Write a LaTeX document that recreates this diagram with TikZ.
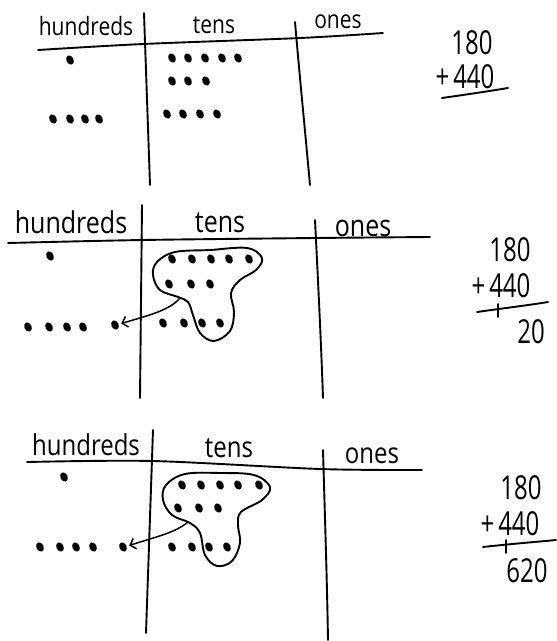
\documentclass[tikz,border=0pt]{standalone}
\usepackage{fontspec}
\setmainfont{Open Sans}
\usetikzlibrary{shapes.geometric,arrows.meta}
\tikzset{
  ink/.style={line width=1.9pt, line cap=round, line join=round},
  dotm/.style={ellipse, fill=black, draw=black, line width=0.6pt, inner sep=0pt, minimum width=6.5pt, minimum height=9pt, rotate=25},
  hdr/.style={anchor=base, inner sep=0pt, yscale=1.2},
  num/.style={inner sep=0pt, xscale=0.8, yscale=1.1},
  arr/.style={ink, line width=1.5pt, -{Straight Barb[length=5pt,width=11pt,line width=1.5pt]}}
}
\begin{document}
\begin{tikzpicture}[x=1pt,y=-1pt]
\useasboundingbox (0,0) rectangle (557,641);

% ---------------- Panel 1 ----------------
\node[hdr,font=\fontsize{21}{21}\selectfont] (h1) at (86,35) {hundreds};
\node[hdr,font=\fontsize{21}{21}\selectfont] (t1) at (214,33) {tens};
\node[hdr,font=\fontsize{21}{21}\selectfont] (o1) at (338,28) {ones};
\draw[ink] plot[smooth] coordinates {(38,50) (143,44) (300,38) (383,33)};
\draw[ink] (144,13) -- (150,185);
\draw[ink] (295,22) .. controls (300,80) and (305,130) .. (310,185);
\node[dotm] (p1h0) at (70,60) {};
\foreach \x [count=\i] in {53,70,85,99} \node[dotm] (p1h\i) at (\x,119) {};
\foreach \x [count=\i] in {172,188,205,222,238} \node[dotm] (p1a\i) at (\x,58) {};
\foreach \x [count=\i] in {172,188,206} \node[dotm] (p1b\i) at (\x,81) {};
\foreach \x [count=\i] in {167,183,200,217} \node[dotm] (p1c\i) at (\x,114) {};
\node[num,font=\fontsize{30}{30}\selectfont] (s1a) at (472,43) {180};
\node[num,font=\fontsize{30}{30}\selectfont] (s1b) at (465,77) {+\,440};
\draw[ink] (442,98) .. controls (470,94) and (490,91) .. (508,88);

% ---------------- Panel 2 ----------------
\node[hdr,font=\fontsize{25}{25}\selectfont] (h2) at (71,233) {hundreds};
\node[hdr,font=\fontsize{25}{25}\selectfont] (t2) at (220,232) {tens};
\node[hdr,font=\fontsize{25}{25}\selectfont] (o2) at (363,236) {ones};
\draw[ink] plot[smooth] coordinates {(8,243) (142,240) (315,238) (430,237)};
\draw[ink] (142,205) -- (140,398);
\draw[ink] (315,220) .. controls (318,280) and (321,340) .. (323,398);
\node[dotm] (p2h0) at (50,256) {};
\foreach \x [count=\i] in {28,49,67,83} \node[dotm] (p2h\i) at (\x,327) {};
\node[dotm] (p2x) at (115,325) {};
\foreach \x [count=\i] in {172,192,211,229,249} \node[dotm] (p2a\i) at (\x,259) {};
\foreach \x [count=\i] in {169,191,210} \node[dotm] (p2b\i) at (\x,284) {};
\foreach \x [count=\i] in {163,184,202,220} \node[dotm] (p2c\i) at (\x,323) {};
\draw[ink] plot[smooth cycle, tension=0.6] coordinates {(157,262) (175,252) (210,250) (247,248) (262,258) (256,270) (240,280) (231,293) (234,312) (230,331) (214,341) (200,333) (193,315) (188,302) (178,297) (160,290) (153,275)};
\coordinate (b2) at (180,298);
\draw[arr] (b2) .. controls (170,310) and (150,315) .. ([xshift=3pt]p2x.east);
\node[num,font=\fontsize{30}{30}\selectfont] (s2a) at (510,250) {180};
\node[num,font=\fontsize{30}{30}\selectfont] (s2b) at (501,286) {+\,440};
\draw[ink] (477,312) .. controls (505,308) and (530,305) .. (548,302);
\draw[ink] (498,304) -- (498,317);
\node[num,font=\fontsize{30}{30}\selectfont] (s2c) at (531,332) {20};

% ---------------- Panel 3 ----------------
\node[hdr,font=\fontsize{24}{24}\selectfont] (h3) at (86,455) {hundreds};
\node[hdr,font=\fontsize{24}{24}\selectfont] (t3) at (229,457) {tens};
\node[hdr,font=\fontsize{24}{24}\selectfont] (o3) at (372,463) {ones};
\draw[ink] plot[smooth] coordinates {(27,462) (153,461) (320,469) (422,470)};
\draw[ink] (153,430) -- (146,633);
\draw[ink] (323,450) .. controls (325,520) and (327,580) .. (328,640);
\node[dotm] (p3h0) at (64,477) {};
\foreach \x [count=\i] in {40,60,76,93} \node[dotm] (p3h\i) at (\x,547) {};
\node[dotm] (p3x) at (123,547) {};
\foreach \x [count=\i] in {182,201,220,238,259} \node[dotm] (p3a\i) at (\x,485) {};
\foreach \x [count=\i] in {178,199,218} \node[dotm] (p3b\i) at (\x,508) {};
\foreach \x [count=\i] in {172,192,209,227} \node[dotm] (p3c\i) at (\x,547) {};
\draw[ink] plot[smooth cycle, tension=0.6] coordinates {(166,485) (185,474) (220,473) (254,475) (270,487) (262,500) (241,512) (238,525) (240,543) (232,561) (217,566) (205,555) (200,533) (190,523) (172,515) (163,500)};
\coordinate (b3) at (188,522);
\draw[arr] (b3) .. controls (175,533) and (155,537) .. ([xshift=3pt]p3x.east);
\node[num,font=\fontsize{30}{30}\selectfont] (s3a) at (521,488) {180};
\node[num,font=\fontsize{30}{30}\selectfont] (s3b) at (510,524) {+\,440};
\draw[ink] (483,547) .. controls (510,544) and (535,542) .. (556,540);
\draw[ink] (506,540) -- (506,553);
\node[num,font=\fontsize{30}{30}\selectfont] (s3c) at (527,571) {620};
\end{tikzpicture}
\end{document}
